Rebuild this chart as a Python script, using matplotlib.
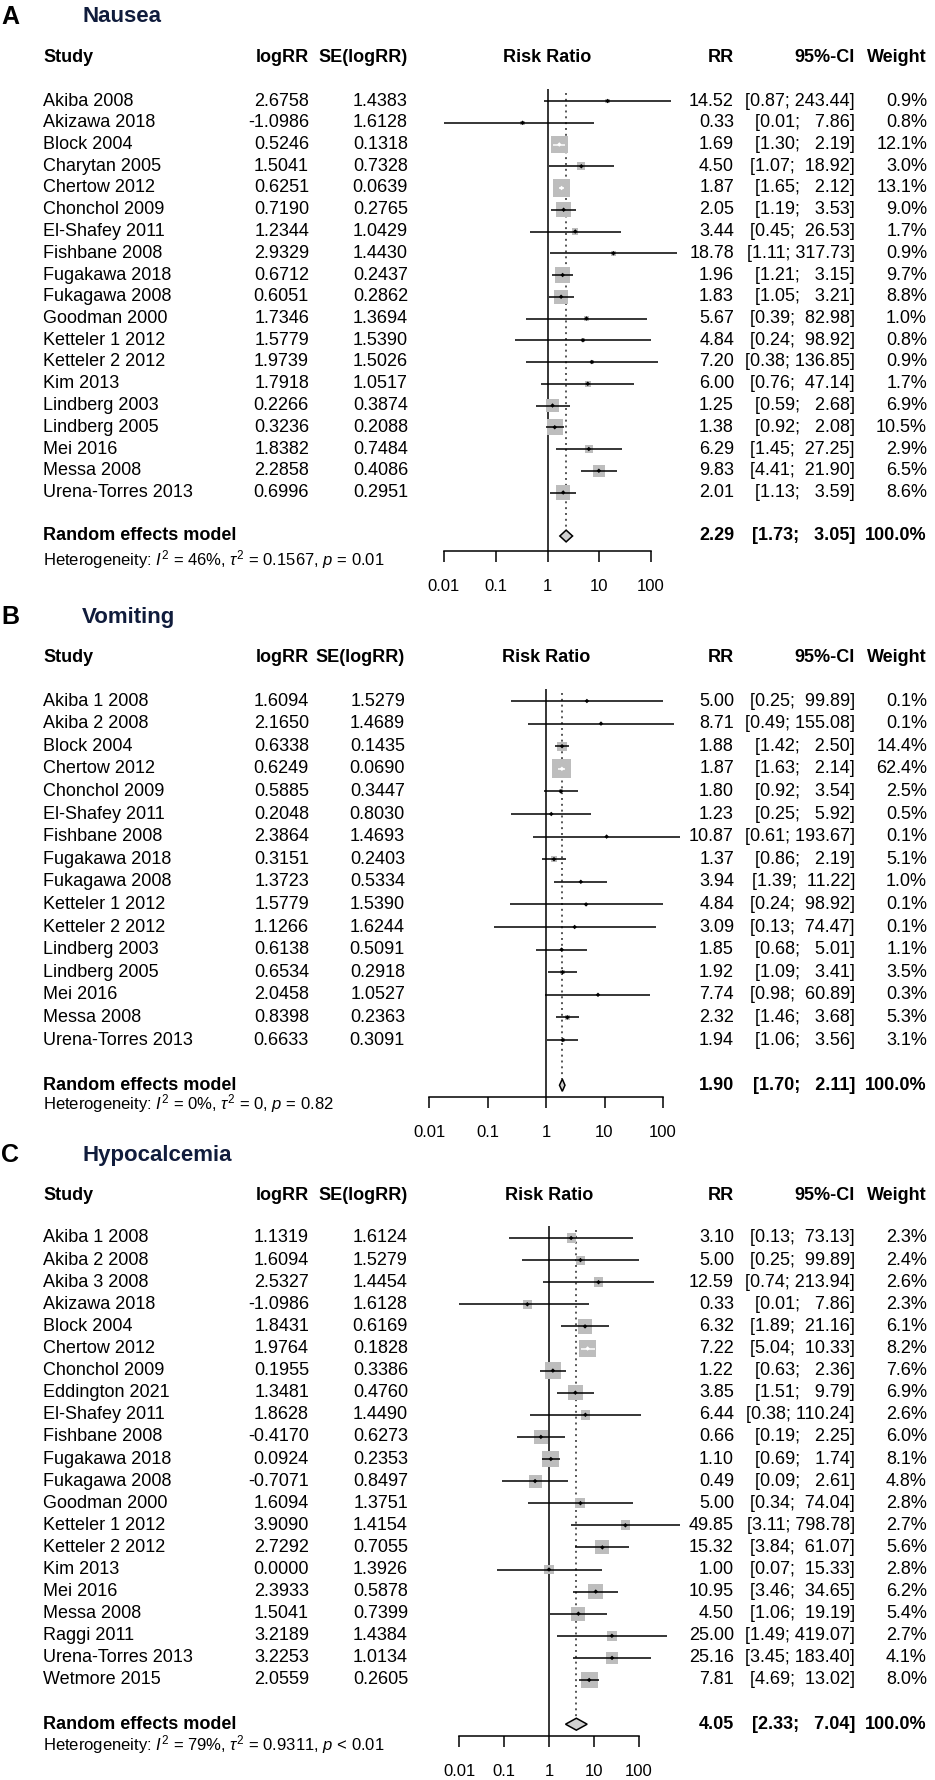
import numpy as np
import matplotlib.pyplot as plt
from matplotlib.transforms import blended_transform_factory

plt.rcParams['font.family'] = ['Liberation Sans', 'DejaVu Sans']
plt.rcParams['mathtext.fontset'] = 'custom'
plt.rcParams['mathtext.rm'] = 'Liberation Sans'
plt.rcParams['mathtext.it'] = 'Liberation Sans:italic'

# ---- A: Nausea ----
nausea_study = ['Akiba 2008', 'Akizawa 2018', 'Block 2004', 'Charytan 2005', 'Chertow 2012',
                'Chonchol 2009', 'El-Shafey 2011', 'Fishbane 2008', 'Fugakawa 2018', 'Fukagawa 2008',
                'Goodman 2000', 'Ketteler 1 2012', 'Ketteler 2 2012', 'Kim 2013', 'Lindberg 2003',
                'Lindberg 2005', 'Mei 2016', 'Messa 2008', 'Urena-Torres 2013']
nausea_logrr = [2.6758, -1.0986, 0.5246, 1.5041, 0.6251, 0.7190, 1.2344, 2.9329, 0.6712, 0.6051,
                1.7346, 1.5779, 1.9739, 1.7918, 0.2266, 0.3236, 1.8382, 2.2858, 0.6996]
nausea_se = [1.4383, 1.6128, 0.1318, 0.7328, 0.0639, 0.2765, 1.0429, 1.4430, 0.2437, 0.2862,
             1.3694, 1.5390, 1.5026, 1.0517, 0.3874, 0.2088, 0.7484, 0.4086, 0.2951]
nausea_rr = [14.52, 0.33, 1.69, 4.50, 1.87, 2.05, 3.44, 18.78, 1.96, 1.83,
             5.67, 4.84, 7.20, 6.00, 1.25, 1.38, 6.29, 9.83, 2.01]
nausea_lo = [0.87, 0.01, 1.30, 1.07, 1.65, 1.19, 0.45, 1.11, 1.21, 1.05,
             0.39, 0.24, 0.38, 0.76, 0.59, 0.92, 1.45, 4.41, 1.13]
nausea_hi = [243.44, 7.86, 2.19, 18.92, 2.12, 3.53, 26.53, 317.73, 3.15, 3.21,
             82.98, 98.92, 136.85, 47.14, 2.68, 2.08, 27.25, 21.90, 3.59]
nausea_w = [0.9, 0.8, 12.1, 3.0, 13.1, 9.0, 1.7, 0.9, 9.7, 8.8,
            1.0, 0.8, 0.9, 1.7, 6.9, 10.5, 2.9, 6.5, 8.6]
nausea_pooled = [2.29, 1.73, 3.05]
nausea_het = ['46%', '0.1567', '= 0.01']

# ---- B: Vomiting ----
vomit_study = ['Akiba 1 2008', 'Akiba 2 2008', 'Block 2004', 'Chertow 2012', 'Chonchol 2009',
               'El-Shafey 2011', 'Fishbane 2008', 'Fugakawa 2018', 'Fukagawa 2008', 'Ketteler 1 2012',
               'Ketteler 2 2012', 'Lindberg 2003', 'Lindberg 2005', 'Mei 2016', 'Messa 2008',
               'Urena-Torres 2013']
vomit_logrr = [1.6094, 2.1650, 0.6338, 0.6249, 0.5885, 0.2048, 2.3864, 0.3151, 1.3723, 1.5779,
               1.1266, 0.6138, 0.6534, 2.0458, 0.8398, 0.6633]
vomit_se = [1.5279, 1.4689, 0.1435, 0.0690, 0.3447, 0.8030, 1.4693, 0.2403, 0.5334, 1.5390,
            1.6244, 0.5091, 0.2918, 1.0527, 0.2363, 0.3091]
vomit_rr = [5.00, 8.71, 1.88, 1.87, 1.80, 1.23, 10.87, 1.37, 3.94, 4.84,
            3.09, 1.85, 1.92, 7.74, 2.32, 1.94]
vomit_lo = [0.25, 0.49, 1.42, 1.63, 0.92, 0.25, 0.61, 0.86, 1.39, 0.24,
            0.13, 0.68, 1.09, 0.98, 1.46, 1.06]
vomit_hi = [99.89, 155.08, 2.50, 2.14, 3.54, 5.92, 193.67, 2.19, 11.22, 98.92,
            74.47, 5.01, 3.41, 60.89, 3.68, 3.56]
vomit_w = [0.1, 0.1, 14.4, 62.4, 2.5, 0.5, 0.1, 5.1, 1.0, 0.1,
           0.1, 1.1, 3.5, 0.3, 5.3, 3.1]
vomit_pooled = [1.90, 1.70, 2.11]
vomit_het = ['0%', '0', '= 0.82']

# ---- C: Hypocalcemia ----
hypo_study = ['Akiba 1 2008', 'Akiba 2 2008', 'Akiba 3 2008', 'Akizawa 2018', 'Block 2004',
              'Chertow 2012', 'Chonchol 2009', 'Eddington 2021', 'El-Shafey 2011', 'Fishbane 2008',
              'Fugakawa 2018', 'Fukagawa 2008', 'Goodman 2000', 'Ketteler 1 2012', 'Ketteler 2 2012',
              'Kim 2013', 'Mei 2016', 'Messa 2008', 'Raggi 2011', 'Urena-Torres 2013', 'Wetmore 2015']
hypo_logrr = [1.1319, 1.6094, 2.5327, -1.0986, 1.8431, 1.9764, 0.1955, 1.3481, 1.8628, -0.4170,
              0.0924, -0.7071, 1.6094, 3.9090, 2.7292, 0.0000, 2.3933, 1.5041, 3.2189, 3.2253, 2.0559]
hypo_se = [1.6124, 1.5279, 1.4454, 1.6128, 0.6169, 0.1828, 0.3386, 0.4760, 1.4490, 0.6273,
           0.2353, 0.8497, 1.3751, 1.4154, 0.7055, 1.3926, 0.5878, 0.7399, 1.4384, 1.0134, 0.2605]
hypo_rr = [3.10, 5.00, 12.59, 0.33, 6.32, 7.22, 1.22, 3.85, 6.44, 0.66,
           1.10, 0.49, 5.00, 49.85, 15.32, 1.00, 10.95, 4.50, 25.00, 25.16, 7.81]
hypo_lo = [0.13, 0.25, 0.74, 0.01, 1.89, 5.04, 0.63, 1.51, 0.38, 0.19,
           0.69, 0.09, 0.34, 3.11, 3.84, 0.07, 3.46, 1.06, 1.49, 3.45, 4.69]
hypo_hi = [73.13, 99.89, 213.94, 7.86, 21.16, 10.33, 2.36, 9.79, 110.24, 2.25,
           1.74, 2.61, 74.04, 798.78, 61.07, 15.33, 34.65, 19.19, 419.07, 183.40, 13.02]
hypo_w = [2.3, 2.4, 2.6, 2.3, 6.1, 8.2, 7.6, 6.9, 2.6, 6.0,
          8.1, 4.8, 2.8, 2.7, 5.6, 2.8, 6.2, 5.4, 2.7, 4.1, 8.0]
hypo_pooled = [4.05, 2.33, 7.04]
hypo_het = ['79%', '0.9311', '< 0.01']

tick_vals = [0.01, 0.1, 1, 10, 100]
tick_labels = ['0.01', '0.1', '1', '10', '100']

W, H = 935, 1780
fig = plt.figure(figsize=(W / 100, H / 100), dpi=100)

FS = 13
TITLE_COL = '#101c3c'


def draw_panel(letter, title, study, logrr, se, rr, lo, hi, w, pooled, het, lay):
    n = len(study)
    row0, step = lay['row0'], lay['step']
    x0, x1 = lay['x0'], lay['x1']
    top_row = -0.55
    axis_row = (lay['axis_y'] - row0) / step
    top_px = row0 + top_row * step
    ax = fig.add_axes([x0 / W, 1 - lay['axis_y'] / H, (x1 - x0) / W, (lay['axis_y'] - top_px) / H])
    ax.set_xscale('log')
    ax.set_xlim(0.01, 100)
    ax.set_ylim(axis_row, top_row)
    ax.patch.set_alpha(0)
    for s in ['left', 'right', 'top']:
        ax.spines[s].set_visible(False)
    ax.spines['bottom'].set_linewidth(1.1)
    ax.set_yticks([])
    ax.set_xticks(tick_vals)
    ax.set_xticklabels(tick_labels)
    ax.minorticks_off()
    ax.tick_params(axis='x', direction='out', length=8, width=1.1, pad=12, labelsize=12)

    rows = np.arange(n)
    rr = np.array(rr); lo = np.array(lo); hi = np.array(hi); w = np.array(w)
    decade = (x1 - x0) / 4.0
    side = lay['smax'] * np.sqrt(w / w.max())
    half = side / 2 / decade
    inside = (np.log10(rr) - np.log10(lo) <= half) & (np.log10(hi) - np.log10(rr) <= half)
    cols = np.where(inside, 'white', 'black')

    ax.axvline(1, color='black', lw=1.1, zorder=1)
    rpool = n + 1
    dh = 0.27
    ax.vlines(pooled[0], top_row + 0.2, rpool - dh, colors='#555555', lw=1.4,
              linestyles=(0, (1, 2)), zorder=1)
    ax.scatter(rr, rows, s=(side * 0.72) ** 2, marker='s', c='#bdbdbd',
               edgecolors='none', zorder=2, clip_on=False)
    ax.hlines(rows, lo, hi, colors=cols, lw=1.1, zorder=3, clip_on=False)
    ax.scatter(rr, rows, s=(3.2 * 0.72) ** 2, marker='D', c=cols, edgecolors='none',
               zorder=4, clip_on=False)
    pe, pl, ph = pooled
    ax.fill([pl, pe, ph, pe], [rpool, rpool - dh, rpool, rpool + dh], facecolor='#d0d0d0',
            edgecolor='black', lw=1.1, zorder=4, clip_on=False)

    tr = blended_transform_factory(fig.transFigure, ax.transData)

    def put(xp, row, s, ha='left', weight='normal', size=FS, color='black'):
        ax.text(xp / W, row, s, transform=tr, ha=ha, va='center', fontsize=size,
                fontweight=weight, color=color)

    # titles
    trow = (lay['title_y'] - row0) / step
    put(1, trow, letter, weight='bold', size=18)
    put(82, trow, title, weight='bold', size=16, color=TITLE_COL)

    # header
    hrow = (lay['header_y'] - row0) / step
    put(43, hrow, 'Study', weight='bold')
    put(309, hrow, 'logRR', ha='right', weight='bold')
    put(lay['se_x'], hrow, 'SE(logRR)', ha='right', weight='bold')
    put((x0 + x1) / 2, hrow, 'Risk Ratio', ha='center', weight='bold')
    put(734, hrow, 'RR', ha='right', weight='bold')
    put(855, hrow, '95%-CI', ha='right', weight='bold')
    put(927, hrow, 'Weight', ha='right', weight='bold')

    lo_s = ['%.2f' % v for v in list(lo) + [pl]]
    hi_s = ['%.2f' % v for v in list(hi) + [ph]]
    wl = max(len(s) for s in lo_s)
    wh = max(len(s) for s in hi_s)
    ci = ['[%s; %s]' % (a.rjust(wl), b.rjust(wh)) for a, b in zip(lo_s, hi_s)]

    for i in range(n):
        put(43, i, study[i])
        put(309, i, '%.4f' % logrr[i], ha='right')
        put(lay['se_x'], i, '%.4f' % se[i], ha='right')
        put(734, i, '%.2f' % rr[i], ha='right')
        put(855, i, ci[i], ha='right')
        put(927, i, '%.1f%%' % w[i], ha='right')

    put(43, rpool, 'Random effects model', weight='bold')
    put(734, rpool, '%.2f' % pe, ha='right', weight='bold')
    put(855, rpool, ci[-1], ha='right', weight='bold')
    put(927, rpool, '100.0%', ha='right', weight='bold')

    hetrow = (lay['het_y'] - row0) / step
    txt = (r'Heterogeneity: $I^2$ = ' + het[0] + r', $\tau^2$ = ' + het[1]
           + r', $p$ ' + het[2])
    put(43, hetrow, txt, size=12)


draw_panel('A', 'Nausea', nausea_study, nausea_logrr, nausea_se, nausea_rr, nausea_lo,
           nausea_hi, nausea_w, nausea_pooled, nausea_het,
           dict(title_y=17, header_y=57.5, row0=101, step=21.75, axis_y=551, het_y=560,
                x0=444, x1=651, smax=17.5, se_x=408))
draw_panel('B', 'Vomiting', vomit_study, vomit_logrr, vomit_se, vomit_rr, vomit_lo,
           vomit_hi, vomit_w, vomit_pooled, vomit_het,
           dict(title_y=617, header_y=657, row0=701, step=22.6, axis_y=1097, het_y=1104,
                x0=429, x1=663, smax=19, se_x=405))
draw_panel('C', 'Hypocalcemia', hypo_study, hypo_logrr, hypo_se, hypo_rr, hypo_lo,
           hypo_hi, hypo_w, hypo_pooled, hypo_het,
           dict(title_y=1155, header_y=1195, row0=1238, step=22.1, axis_y=1736, het_y=1745,
                x0=459, x1=639, smax=17, se_x=408))

plt.savefig('out.png', dpi=100)
plt.close()
